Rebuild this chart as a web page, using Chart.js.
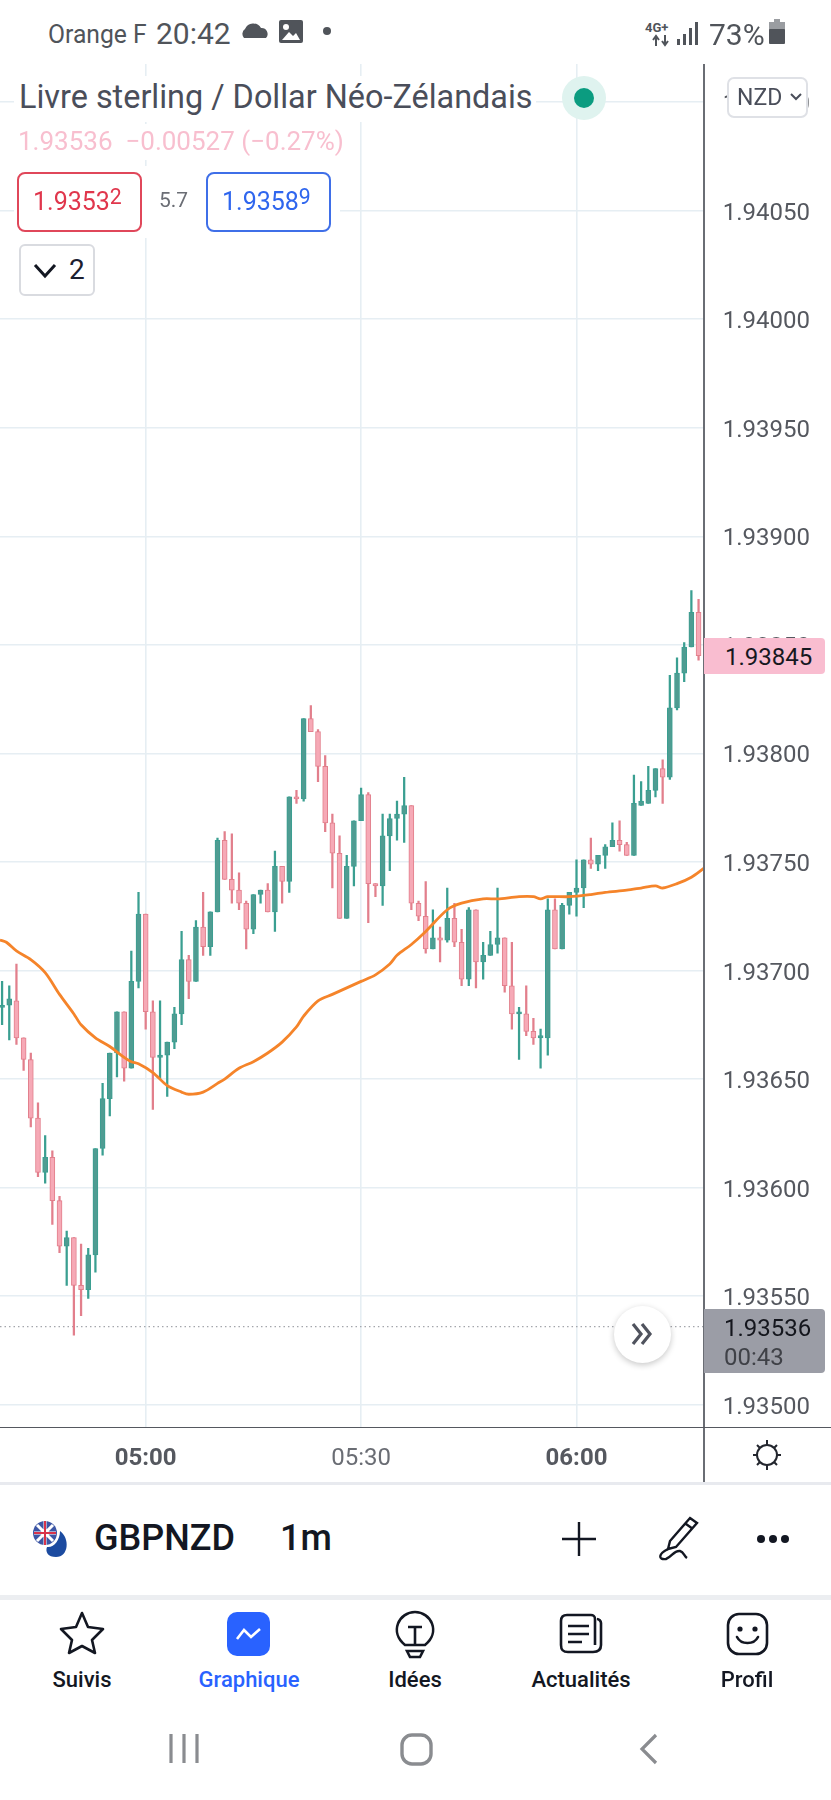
<!DOCTYPE html>
<html lang="fr"><head><meta charset="utf-8">
<script src="https://cdn.jsdelivr.net/npm/chart.js@4"></script>
<style>
html,body{margin:0;padding:0;background:#fff;width:831px;height:1800px;overflow:hidden;font-family:Roboto,sans-serif}
canvas{position:absolute;left:0;top:64px}
.t{position:absolute;white-space:nowrap;line-height:1;}
.wb{position:absolute;background:#fff}
.box{position:absolute;box-sizing:border-box;background:#fff;border-radius:8px}
svg{position:absolute;overflow:visible}
sup{font-size:.85em;line-height:0;vertical-align:.26em}
</style></head><body>
<canvas id="c" width="831" height="1418"></canvas>

<div class="wb" style="left:14px;top:76px;width:522px;height:46px"></div>
<div class="wb" style="left:14px;top:124px;width:336px;height:36px"></div>
<div class="wb" style="left:14px;top:166px;width:326px;height:72px"></div>
<div class="t" style="left:19px;top:81px;font-size:32.4px;color:#4a4e5a">Livre sterling / Dollar Néo-Zélandais</div>
<div class="t" style="left:18px;top:128px;font-size:26px;color:#f8bfcf;white-space:pre">1.93536  −0.00527 (−0.27%)</div>
<div style="position:absolute;left:562px;top:76px;width:44px;height:44px;border-radius:50%;background:#dff3ef"></div>
<div style="position:absolute;left:574px;top:88px;width:20px;height:20px;border-radius:50%;background:#0b9c80"></div>
<div class="box" style="left:17px;top:172px;width:125px;height:60px;border:2px solid #e0475a"></div>
<div class="t" style="left:33px;top:189px;font-size:25px;color:#e0364c">1.9353<sup>2</sup></div>
<div class="t" style="left:159px;top:190px;font-size:21px;color:#6b6e75">5.7</div>
<div class="box" style="left:206px;top:172px;width:125px;height:60px;border:2px solid #3f6fe8"></div>
<div class="t" style="left:222px;top:189px;font-size:25px;color:#2f66ee">1.9358<sup>9</sup></div>
<div class="box" style="left:19px;top:244px;width:76px;height:52px;border:2px solid #d9dbe0;border-radius:6px"></div>
<svg style="left:33px;top:263px" width="24" height="16"><path d="M2 2 L12 13 L22 2" fill="none" stroke="#131722" stroke-width="3"/></svg>
<div class="t" style="left:69px;top:256px;font-size:28px;color:#1c2030">2</div>
<div class="box" style="left:727px;top:77px;width:81px;height:41px;border:2px solid #dfe1e6;border-radius:7px"></div>
<div class="t" style="left:737px;top:86px;font-size:23px;color:#4a4e5a">NZD</div>
<svg style="left:790px;top:93px" width="12" height="9"><path d="M1 1 L6 6 L11 1" fill="none" stroke="#4a4e5a" stroke-width="2"/></svg>

<!-- status bar -->
<div class="t" style="left:48px;top:21px;font-size:26px;color:#50545a;transform:scaleX(.95);transform-origin:left">Orange F</div>
<div class="t" style="left:156px;top:19px;font-size:30px;color:#50545a">20:42</div>
<svg style="left:241px;top:22px" width="28" height="18"><path d="M3 16 a6 6 0 0 1 1-9 a9 9 0 0 1 16-1 a6 6 0 0 1 5 10 z" fill="#50545a"/></svg>
<svg style="left:279px;top:20px" width="24" height="24"><rect x="0" y="0" width="24" height="23" rx="2" fill="#50545a"/><circle cx="7" cy="7" r="3" fill="#fff"/><path d="M3 20 L10 12 L14 16 L17 13 L21 20z" fill="#fff"/></svg>
<svg style="left:322px;top:26px" width="10" height="10"><circle cx="5" cy="5" r="4" fill="#50545a"/></svg>
<div class="t" style="left:645px;top:21px;font-size:13px;font-weight:700;color:#50545a">4G+</div>
<svg style="left:650px;top:35px" width="22" height="11"><path d="M6 11V2M3 5l3-4 3 4M15 0v9M12 6l3 4 3-4" fill="none" stroke="#50545a" stroke-width="2"/></svg>
<svg style="left:677px;top:21px" width="22" height="24"><g fill="#50545a"><rect x="0" y="18" width="3" height="6"/><rect x="6" y="13" width="3" height="11"/><rect x="12" y="7" width="3" height="17"/><rect x="18" y="1" width="3" height="23"/></g></svg>
<div class="t" style="left:709px;top:20px;font-size:30px;color:#50545a">73%</div>
<svg style="left:769px;top:19px" width="16" height="26"><rect x="5" y="0" width="6" height="4" fill="#9a9da1"/><rect x="0" y="3" width="16" height="8" fill="#9a9da1"/><rect x="0" y="10" width="16" height="15" rx="1" fill="#50545a"/></svg>

<!-- axis frame -->
<div style="position:absolute;left:703px;top:64px;width:1.6px;height:1418px;background:#6a6d74"></div>
<div style="position:absolute;left:0;top:1426.6px;width:831px;height:1.6px;background:#55585f"></div>
<div style="position:absolute;left:0;top:1482px;width:831px;height:3px;background:#e8eaef"></div>
<div style="position:absolute;left:0;top:1595px;width:831px;height:5px;background:#eceef1"></div>

<!-- price tags -->
<div style="position:absolute;left:704px;top:638px;width:121px;height:36px;background:#f9bdd0;border-radius:0 4px 4px 0"></div>
<div class="t" style="left:725px;top:645px;font-size:24px;color:#16181f">1.93845</div>
<div style="position:absolute;left:704px;top:1309px;width:121px;height:64px;background:#9b9da6;border-radius:0 4px 4px 0"></div>
<div class="t" style="left:724px;top:1316px;font-size:24px;color:#14161d">1.93536</div>
<div class="t" style="left:724px;top:1345px;font-size:24px;color:#3f4147">00:43</div>

<div style="position:absolute;left:614px;top:1306px;width:57px;height:57px;border-radius:50%;background:#fff;box-shadow:0 2px 6px rgba(0,0,0,.22)"></div>
<svg style="left:631px;top:1322px" width="22" height="24"><path d="M2 2 L10 12 L2 22 M11 2 L19 12 L11 22" fill="none" stroke="#50535e" stroke-width="3.2"/></svg>
<svg style="left:752px;top:1440px" width="30" height="30"><g fill="none" stroke="#23262e" stroke-width="2"><circle cx="15" cy="15" r="10"/><path d="M15 0v5M15 25v5M1 15h4M25 15h4M5 5l3 3M25 5l-3 3M5 25l3-3M25 25l-3-3"/></g></svg>

<!-- symbol bar -->
<svg style="left:32px;top:1520px" width="38" height="38"><circle cx="13" cy="13" r="12" fill="#3c56a5"/><path d="M2 13h22M13 1v24M5 5l16 16M21 5L5 21" stroke="#fff" stroke-width="3"/><path d="M2 13h22M13 1v24" stroke="#d8334a" stroke-width="2"/><path d="M28 11 C38 18 37 37 24 37 C16 37 13 32 15 27 C22 28 28 20 28 11 Z" fill="#1c4ba0"/></svg>
<div class="t" style="left:94px;top:1520px;font-size:36px;font-weight:500;color:#131722">GBPNZD</div>
<div class="t" style="left:280px;top:1520px;font-size:36px;font-weight:500;color:#131722">1m</div>
<svg style="left:561px;top:1521px" width="36" height="36"><path d="M18 1v34M1 18h34" stroke="#131722" stroke-width="2.4"/></svg>
<svg style="left:656px;top:1516px" width="44" height="46"><path d="M34 2 L41 7 L20 31 L12 33 L14 25 Z M30 8 L37 13" fill="none" stroke="#131722" stroke-width="2.4"/><path d="M12 33 C2 38 2 44 10 43 C16 41 18 34 24 35 C28 36 28 40 31 42" fill="none" stroke="#131722" stroke-width="2.4"/></svg>
<svg style="left:755px;top:1533px" width="36" height="12"><g fill="#131722"><circle cx="6" cy="6" r="4"/><circle cx="18" cy="6" r="4"/><circle cx="30" cy="6" r="4"/></g></svg>

<!-- tabs -->
<svg style="left:60px;top:1611px" width="44" height="44"><path d="M22 2 L28 16 L43 18 L32 29 L35 42 L22 35 L9 42 L12 29 L1 18 L16 16 Z" fill="none" stroke="#131722" stroke-width="2.6" stroke-linejoin="round"/></svg>
<div style="position:absolute;left:227px;top:1612px;width:43px;height:44px;border-radius:10px;background:#2962ff"></div>
<svg style="left:236px;top:1626px" width="26" height="16"><path d="M1 13 L8 4 L15 11 L24 3" fill="none" stroke="#fff" stroke-width="2.6"/></svg>
<svg style="left:393px;top:1610px" width="44" height="50"><g fill="none" stroke="#131722" stroke-width="2.6"><path d="M12 35 C-4 22 6 2 22 2 C38 2 48 22 32 35 Z"/><path d="M15 17h14M22 17v18M14 41h16l-3 6H17z"/></g></svg>
<svg style="left:559px;top:1613px" width="44" height="42"><g fill="none" stroke="#131722" stroke-width="2.6"><path d="M36 6 C36 3 34 2 32 2 H8 C4 2 2 4 2 8 V32 C2 37 4 39 9 39 H34 C39 39 42 37 42 32 V10 C42 8 40 6 38 6"/><path d="M36 6V32"/><path d="M9 13h21M9 21h21M9 29h14"/></g></svg>
<svg style="left:726px;top:1612px" width="43" height="44"><g fill="none" stroke="#131722" stroke-width="2.6"><rect x="2" y="2" width="39" height="40" rx="11"/><path d="M11 25 C15 33 28 33 32 25" stroke-linecap="round"/></g><circle cx="14" cy="17" r="2.6" fill="#131722"/><circle cx="29" cy="17" r="2.6" fill="#131722"/></svg>
<div class="t" style="left:82px;top:1669px;font-size:22px;font-weight:500;color:#131722;transform:translateX(-50%)">Suivis</div>
<div class="t" style="left:249px;top:1669px;font-size:22px;font-weight:500;color:#2962ff;transform:translateX(-50%)">Graphique</div>
<div class="t" style="left:415px;top:1669px;font-size:22px;font-weight:500;color:#131722;transform:translateX(-50%)">Idées</div>
<div class="t" style="left:581px;top:1669px;font-size:22px;font-weight:500;color:#131722;transform:translateX(-50%)">Actualités</div>
<div class="t" style="left:747px;top:1669px;font-size:22px;font-weight:500;color:#131722;transform:translateX(-50%)">Profil</div>

<!-- android nav -->
<svg style="left:168px;top:1733px" width="32" height="32"><path d="M3 1v29M16 1v29M29 1v29" stroke="#8a8c90" stroke-width="3.2"/></svg>
<svg style="left:400px;top:1733px" width="33" height="33"><rect x="2" y="2" width="29" height="29" rx="10" fill="none" stroke="#8a8c90" stroke-width="3.4"/></svg>
<svg style="left:639px;top:1733px" width="20" height="32"><path d="M17 2 L3 16 L17 30" fill="none" stroke="#8a8c90" stroke-width="3.2"/></svg>

<script>
// Minutes since midnight of each 1-minute candle (04:40 ... 06:17)
const minutes = [280,281,282,283,284,285,286,287,288,289,290,291,292,293,294,295,296,297,298,299,300,301,302,303,304,305,306,307,308,309,310,311,312,313,314,315,316,317,318,319,320,321,322,323,324,325,326,327,328,329,330,331,332,333,334,335,336,337,338,339,340,341,342,343,344,345,346,347,348,349,350,351,352,353,354,355,356,357,358,359,360,361,362,363,364,365,366,367,368,369,370,371,372,373,374,375,376,377];
const opens = [1.93683,1.93684,1.93686,1.93669,1.93659,1.93632,1.93607,1.93614,1.93594,1.93573,1.93577,1.93555,1.93553,1.93569,1.93618,1.93641,1.93662,1.93681,1.93655,1.93695,1.93726,1.93681,1.93660,1.93661,1.93667,1.93680,1.93705,1.93695,1.93720,1.93711,1.93727,1.93760,1.93742,1.93737,1.93731,1.93719,1.93735,1.93737,1.93727,1.93748,1.93741,1.93780,1.93779,1.93816,1.93810,1.93794,1.93768,1.93754,1.93724,1.93748,1.93769,1.93781,1.93740,1.93739,1.93762,1.93770,1.93772,1.93776,1.93731,1.93725,1.93710,1.93715,1.93714,1.93724,1.93713,1.93696,1.93728,1.93704,1.93707,1.93712,1.93715,1.93693,1.93680,1.93680,1.93672,1.93669,1.93669,1.93728,1.93710,1.93730,1.93736,1.93738,1.93751,1.93749,1.93753,1.93757,1.93760,1.93758,1.93753,1.93776,1.93777,1.93783,1.93793,1.93789,1.93821,1.93837,1.93849,1.93865];
const closes = [1.93684,1.93687,1.93669,1.93659,1.93632,1.93607,1.93614,1.93594,1.93573,1.93577,1.93555,1.93553,1.93569,1.93618,1.93641,1.93662,1.93681,1.93655,1.93695,1.93726,1.93681,1.93660,1.93661,1.93667,1.93680,1.93705,1.93695,1.93720,1.93711,1.93727,1.93760,1.93742,1.93737,1.93731,1.93719,1.93735,1.93737,1.93727,1.93748,1.93741,1.93780,1.93779,1.93816,1.93810,1.93794,1.93768,1.93754,1.93724,1.93748,1.93769,1.93781,1.93740,1.93739,1.93762,1.93770,1.93772,1.93776,1.93731,1.93725,1.93710,1.93715,1.93714,1.93724,1.93713,1.93696,1.93728,1.93704,1.93707,1.93712,1.93715,1.93693,1.93680,1.93681,1.93672,1.93669,1.93670,1.93728,1.93710,1.93730,1.93736,1.93738,1.93751,1.93749,1.93753,1.93757,1.93760,1.93758,1.93753,1.93777,1.93778,1.93783,1.93793,1.93789,1.93821,1.93837,1.93849,1.93865,1.93845];
const highs = [1.93695,1.93693,1.93703,1.93669,1.93662,1.93639,1.93624,1.93617,1.93596,1.93580,1.93577,1.93574,1.93572,1.93618,1.93648,1.93662,1.93681,1.93681,1.93709,1.93736,1.93726,1.93686,1.93686,1.93667,1.93683,1.93718,1.93707,1.93723,1.93736,1.93727,1.93761,1.93764,1.93763,1.93745,1.93732,1.93735,1.93737,1.93740,1.93755,1.93748,1.93780,1.93783,1.93816,1.93822,1.93811,1.93799,1.93772,1.93762,1.93753,1.93769,1.93784,1.93782,1.93740,1.93772,1.93772,1.93778,1.93789,1.93776,1.93732,1.93741,1.93728,1.93720,1.93738,1.93731,1.93719,1.93729,1.93728,1.93713,1.93718,1.93738,1.93715,1.93713,1.93683,1.93693,1.93678,1.93673,1.93733,1.93733,1.93731,1.93736,1.93751,1.93751,1.93761,1.93753,1.93758,1.93768,1.93769,1.93759,1.93790,1.93787,1.93794,1.93793,1.93797,1.93836,1.93844,1.93851,1.93875,1.93871];
const lows = [1.93675,1.93668,1.93666,1.93654,1.93628,1.93605,1.93602,1.93583,1.93570,1.93555,1.93532,1.93541,1.93549,1.93561,1.93615,1.93633,1.93651,1.93649,1.93655,1.93692,1.93673,1.93636,1.93650,1.93642,1.93664,1.93675,1.93687,1.93695,1.93707,1.93707,1.93727,1.93742,1.93731,1.93728,1.93710,1.93717,1.93731,1.93727,1.93718,1.93731,1.93736,1.93777,1.93778,1.93810,1.93787,1.93764,1.93738,1.93724,1.93724,1.93739,1.93769,1.93722,1.93734,1.93730,1.93746,1.93760,1.93759,1.93728,1.93723,1.93708,1.93710,1.93704,1.93713,1.93711,1.93693,1.93693,1.93692,1.93696,1.93707,1.93708,1.93690,1.93673,1.93659,1.93670,1.93666,1.93655,1.93661,1.93710,1.93710,1.93726,1.93725,1.93729,1.93747,1.93746,1.93747,1.93757,1.93755,1.93753,1.93753,1.93776,1.93777,1.93780,1.93777,1.93788,1.93820,1.93833,1.93849,1.93843];
// Moving average
const maMinutes = [279.7,280.6,282,284,286,288,290,291,293,295,297,298,299,301,303,305,306,308,310,311,313,315,317,319,321,322,324,326,328,330,332,334,335,337,339,342,344,347,349,352,354,355,356,359,362,364,367,369,371,372,374,376,377.7];
const maValues = [1.93714,1.93713,1.93709,1.93705,1.93699,1.93689,1.93680,1.93675,1.93669,1.93665,1.93660,1.93658,1.93657,1.93653,1.93647,1.93644,1.93643,1.93644,1.93648,1.93650,1.93655,1.93658,1.93662,1.93667,1.93674,1.93679,1.93686,1.93689,1.93692,1.93695,1.93698,1.93703,1.93707,1.93712,1.93718,1.93728,1.93731,1.93733,1.93733,1.93734,1.93734,1.93733,1.93734,1.93734,1.93735,1.93736,1.93737,1.93738,1.93739,1.93738,1.93740,1.93743,1.93747];
const lastPrice = 1.93536;
const priceTicks = [1.935,1.9355,1.936,1.9365,1.937,1.9375,1.938,1.9385,1.939,1.9395,1.94,1.9405,1.941];
const timeTicks = [300,330,360];
const timeLabels = ["05:00","05:30","06:00"];
const boldTimes = ["05:00","06:00"];

const red='#e27f8c', redFill='#f6a9b6', green='#3a9f91', greenFill='#4f9c92';
const isUp = minutes.map((_,i)=>closes[i]>=opens[i]);
const xMin=279.71, xMax=377.73, yMin=1.934896, yMax=1.9411755;
const isBold = c => c.tick && boldTimes.includes(timeLabels[timeTicks.indexOf(c.tick.value)]);
const noPad = s => {s.paddingTop=0;s.paddingBottom=0;s.paddingLeft=0;s.paddingRight=0;};

new Chart(document.getElementById('c'),{
  type:'bar',
  data:{labels:minutes,datasets:[
    {type:'line',label:'MA',data:maMinutes.map((m,i)=>({x:m,y:maValues[i]})),borderColor:'#f5842a',borderWidth:2.8,pointRadius:0,tension:0.3,order:0},
    {type:'line',label:'Last',data:[{x:xMin,y:lastPrice},{x:xMax,y:lastPrice}],borderColor:'#a4a6ac',borderWidth:1.3,borderDash:[1.5,3],pointRadius:0,order:4},
    {label:'Body',data:minutes.map((_,i)=>[opens[i],closes[i]]),barThickness:5,borderWidth:1,borderSkipped:false,grouped:false,
      backgroundColor:isUp.map(u=>u?greenFill:redFill),borderColor:isUp.map(u=>u?green:red),order:1},
    {label:'Wick',data:minutes.map((_,i)=>[lows[i],highs[i]]),barThickness:1.6,borderWidth:0,grouped:false,
      backgroundColor:isUp.map(u=>u?green:red),order:2}
  ]},
  options:{
    responsive:false,animation:false,devicePixelRatio:1,
    layout:{padding:0},
    plugins:{legend:{display:false},tooltip:{enabled:false}},
    scales:{
      x:{type:'linear',min:xMin,max:xMax,offset:false,
        afterBuildTicks:s=>{s.ticks=timeTicks.map(v=>({value:v}));},
        afterFit:s=>{s.height=54.7;noPad(s);},
        grid:{color:'#e6eef3',lineWidth:1.6,drawTicks:false,offset:false},border:{display:false},
        ticks:{autoSkip:false,maxRotation:0,padding:17,
          callback:v=>timeLabels[timeTicks.indexOf(v)],
          font:c=>({family:'Roboto',size:24,weight:isBold(c)?'700':'400'}),
          color:c=>isBold(c)?'#55585f':'#6a6d74'}},
      y:{type:'linear',position:'right',min:yMin,max:yMax,
        afterBuildTicks:s=>{s.ticks=priceTicks.map(v=>({value:v}));},
        afterFit:s=>{s.width=127.2;noPad(s);},
        grid:{color:'#e6eef3',lineWidth:1.6,drawTicks:false},border:{display:false},
        ticks:{autoSkip:false,padding:19,labelOffset:3,callback:v=>v.toFixed(5),font:{family:'Roboto',size:24},color:'#55585f'}}
    }
  }
});
</script>
</body></html>
